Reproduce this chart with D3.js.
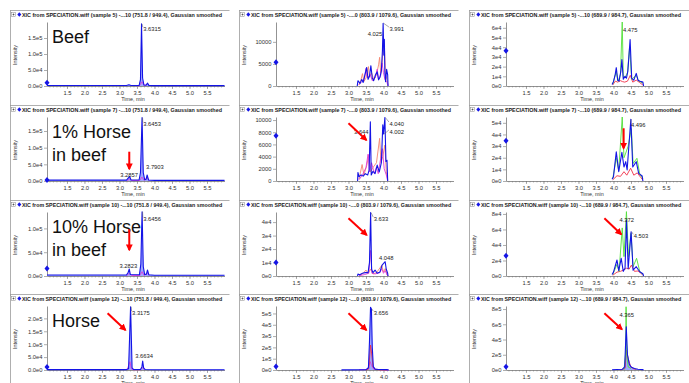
<!DOCTYPE html>
<html>
<head>
<meta charset="utf-8">
<script src="https://cdn.jsdelivr.net/npm/d3@7"></script>
<style>
  body { margin: 0; background: #fff; }
  svg { display: block; }
  text { font-family: "Liberation Sans", Arial, sans-serif; }
</style>
</head>
<body>
<svg id="chart" width="689" height="383"></svg>
<script>
// ---- data ----
const timeTicks = [1.5, 2.0, 2.5, 3.0, 3.5, 4.0, 4.5, 5.0, 5.5];
const samples = ["5", "7", "10", "12"];
const transitions = ["751.8 / 949.4", "803.9 / 1079.6", "689.9 / 984.7"];
const titleStubs = ["-...10", "-....0", "-...10"];
const sampleNames = [["Beef"], ["1% Horse", "in beef"], ["10% Horse", "in beef"], ["Horse"]];

const yMaxes = [
  [2.0e5, 14500, 6.6e4],
  [1.92e5, 10500, 5.5e4],
  [1.345e5, 4.75e4, 8.25e4],
  [2.48e5, 5.66e5, 8.4e5]
];
const yTicks = [
  [[0, 5e4, 1e5, 1.5e5], [0, 5000, 10000], [0, 1e4, 2e4, 3e4, 4e4, 5e4, 6e4]],
  [[0, 5e4, 1e5, 1.5e5], [0, 2000, 4000, 6000, 8000, 10000], [0, 1e4, 2e4, 3e4, 4e4, 5e4]],
  [[0, 5e4, 1e5], [0, 1e4, 2e4, 3e4, 4e4], [0, 2e4, 4e4, 6e4, 8e4]],
  [[0, 5e4, 1e5, 1.5e5, 2e5], [0, 1e5, 2e5, 3e5, 4e5, 5e5], [0, 2e5, 4e5, 6e5, 8e5]]
];
const yFormats = [
  [".1e", "d", ".0e"],
  [".1e", "d", ".0e"],
  [".1e", ".0e", ".0e"],
  [".1e", ".0e", ".0e"]
];
const markerLevels = [[1e4, 5400, 3.64e4], [3000, 7430, 3.46e4], [1.6e4, 1e4, 2.6e4], [1.16e4, 3e4, 4.4e4]];

// row 1 : beef
const r1c1Blue = [[0.93,1500],[3.2,1500],[3.27,4000],[3.33,1500],[3.56,1500],[3.6,20000],[3.63,194000],[3.66,25000],[3.7,3000],[3.76,2500],[3.8,9000],[3.84,2000],[4.0,1200],[6.0,1200]];
const r1c1Pink = [[3.5,0],[3.58,2000],[3.64,13000],[3.7,2500],[3.76,3500],[3.8,8000],[3.86,500]];
const r1c2Blue = [[3.25,0],[3.27,1200],[3.33,600],[3.38,1500],[3.42,800],[3.47,2500],[3.52,4200],[3.56,1500],[3.6,2200],[3.64,4600],[3.68,1800],[3.72,1200],[3.77,2500],[3.82,3200],[3.86,1400],[3.9,2000],[3.94,3500],[3.97,8000],[3.99,14200],[4.01,7000],[4.025,10600],[4.04,3000],[4.06,1000],[4.09,3800],[4.12,2500],[4.13,0]];
const r1c2Salmon = [[3.3,200],[3.36,1500],[3.4,2800],[3.44,1000],[3.5,1800],[3.57,4400],[3.6,2000],[3.66,3000],[3.72,1500],[3.8,2500],[3.86,4800],[3.89,6500],[3.92,3000],[3.96,5000],[4.0,9500],[4.03,8000],[4.06,2500],[4.1,1500],[4.13,200]];
const r1c2Pink = [[3.3,300],[3.38,1000],[3.45,1500],[3.5,4000],[3.54,1800],[3.62,2600],[3.68,1200],[3.76,1800],[3.82,3800],[3.86,1500],[3.92,2400],[3.96,5200],[4.0,3000],[4.04,1500],[4.1,800],[4.13,0]];
const r1c3Blue = [[3.96,1500],[4.0,4500],[4.05,12000],[4.08,18900],[4.12,6000],[4.16,5000],[4.21,15000],[4.24,27400],[4.28,7000],[4.33,10000],[4.37,8000],[4.41,15000],[4.475,48000],[4.52,7900],[4.58,6000],[4.65,13000],[4.7,6000],[4.76,5000],[4.84,4000],[4.86,0]];
const r1c3Green = [[3.98,2000],[4.08,15000],[4.13,5000],[4.2,12000],[4.25,66000],[4.28,9000],[4.35,9600],[4.4,14000],[4.46,40000],[4.52,7000],[4.65,11000],[4.72,5000],[4.84,3000]];
const r1c3Red = [[3.98,1000],[4.05,5000],[4.12,4000],[4.2,5500],[4.26,4500],[4.32,4000],[4.4,5000],[4.48,11000],[4.55,4000],[4.65,6000],[4.75,3500],[4.84,1000]];

// row 2 : 1% horse in beef
const r2c1Blue = [[0.93,2500],[3.2,2500],[3.26,10000],[3.29,14000],[3.33,3000],[3.56,3000],[3.6,25000],[3.645,190000],[3.68,25000],[3.72,4000],[3.76,5000],[3.79,18000],[3.83,3000],[4.0,2000],[6.0,2000]];
const r2c1Pink = [[3.22,1000],[3.29,6000],[3.35,1500],[3.58,1500],[3.64,12000],[3.7,2000],[3.79,10000],[3.85,1000]];
const r2c2Blue = [[3.26,0],[3.27,1400],[3.3,700],[3.36,1000],[3.42,800],[3.48,1200],[3.55,1000],[3.59,1800],[3.625,9700],[3.65,1000],[3.7,1600],[3.76,1200],[3.82,2600],[3.88,1500],[3.94,3000],[3.98,9200],[4.002,7700],[4.04,10400],[4.07,3200],[4.1,3400],[4.12,0]];
const r2c2Salmon = [[3.3,300],[3.39,2700],[3.44,1000],[3.52,2500],[3.58,4300],[3.63,1500],[3.7,2200],[3.8,3000],[3.89,7000],[3.93,3000],[3.98,4000],[4.04,5900],[4.08,1500],[4.12,200]];
const r2c2Pink = [[3.3,200],[3.4,1000],[3.5,2200],[3.56,4400],[3.6,1500],[3.66,3000],[3.74,1200],[3.8,2300],[3.85,1200],[3.92,3700],[3.97,5300],[4.02,2000],[4.08,1000],[4.12,0]];
const r2c3Blue = [[3.96,1500],[4.0,3700],[4.08,25000],[4.15,8000],[4.24,24700],[4.3,12000],[4.35,16600],[4.39,9500],[4.496,53000],[4.55,12000],[4.65,16600],[4.72,6600],[4.82,4300],[4.84,0]];
const r2c3Green = [[3.98,2000],[4.08,20000],[4.15,9000],[4.25,55000],[4.3,20000],[4.35,24000],[4.42,30000],[4.51,45000],[4.56,15000],[4.67,19500],[4.75,6000],[4.84,2000]];
const r2c3Red = [[3.98,1000],[4.1,4500],[4.2,4000],[4.3,8000],[4.38,5000],[4.49,11000],[4.58,5000],[4.68,7000],[4.78,3000],[4.84,800]];

// row 3 : 10% horse in beef
const r3c1Blue = [[0.93,2000],[3.2,2000],[3.25,8000],[3.28,14700],[3.31,3000],[3.57,2500],[3.61,25000],[3.646,135000],[3.68,20000],[3.72,3000],[3.77,4000],[3.8,12600],[3.84,2500],[4.0,1500],[6.0,1500]];
const r3c1Pink = [[3.2,500],[3.28,5600],[3.34,1000],[3.58,1000],[3.645,9000],[3.7,1500],[3.8,5600],[3.86,500]];
const r3c2Blue = [[3.26,0],[3.27,1500],[3.32,1000],[3.4,2000],[3.48,2500],[3.56,2500],[3.6,10000],[3.633,47000],[3.66,5000],[3.7,2500],[3.76,4400],[3.82,2000],[3.9,3000],[3.96,8100],[4.048,10600],[4.08,5000],[4.12,2000],[4.13,0]];
const r3c2Salmon = [[3.3,300],[3.4,1500],[3.5,4400],[3.56,2000],[3.63,5000],[3.7,1500],[3.8,2500],[3.9,6000],[3.95,8000],[4.0,3000],[4.05,5500],[4.1,1500],[4.13,200]];
const r3c2Pink = [[3.3,200],[3.45,1000],[3.58,2000],[3.633,19000],[3.67,2000],[3.76,1500],[3.9,2500],[3.95,5500],[4.0,2000],[4.05,4000],[4.1,800],[4.13,0]];
const r3c3Blue = [[3.96,2000],[4.0,5000],[4.1,20600],[4.15,7000],[4.22,22800],[4.28,6000],[4.33,10000],[4.372,72000],[4.42,9500],[4.503,57000],[4.56,7500],[4.65,12000],[4.75,5500],[4.84,3000],[4.86,0]];
const r3c3Green = [[3.98,2000],[4.1,15000],[4.16,6000],[4.25,62000],[4.3,25000],[4.37,83000],[4.43,25000],[4.5,55000],[4.56,12000],[4.66,22800],[4.75,6000],[4.84,2000]];
const r3c3Red = [[3.98,1000],[4.1,5000],[4.2,6000],[4.3,8000],[4.37,10000],[4.45,9000],[4.51,14000],[4.6,6000],[4.7,6500],[4.8,3000],[4.84,800]];

// row 4 : horse
const r4c1Blue = [[0.93,1500],[3.2,1500],[3.26,5000],[3.3175,245000],[3.36,8000],[3.4,2000],[3.6,2000],[3.64,12000],[3.663,35000],[3.69,8000],[3.73,2000],[4.0,1200],[6.0,1200]];
const r4c1Pink = [[3.22,1000],[3.3,32000],[3.34,4000],[3.4,1000],[3.6,1000],[3.66,9000],[3.71,1000]];
const r4c2Blue = [[2.8,1000],[3.4,2000],[3.5,3000],[3.57,20000],[3.6,250000],[3.63,555000],[3.656,540000],[3.68,200000],[3.71,30000],[3.76,8000],[3.85,4000],[4.1,3000],[4.15,0]];
const r4c2Red = [[3.5,0],[3.58,10000],[3.63,221000],[3.66,150000],[3.7,30000],[3.76,5000],[3.9,2000],[4.1,0]];
const r4c2Pink = [[3.3,2000],[3.55,5000],[3.62,74000],[3.66,40000],[3.72,8000],[3.9,3000],[4.1,1500],[4.15,0]];
const r4c3Blue = [[3.96,4000],[4.1,6000],[4.25,9000],[4.32,40000],[4.365,568000],[4.4,200000],[4.45,80000],[4.5,40000],[4.6,20000],[4.7,10000],[4.84,5000],[4.86,0]];
const r4c3Green = [[4.3,5000],[4.345,200000],[4.36,830000],[4.38,200000],[4.42,40000],[4.5,20000]];
const r4c3Red = [[4.2,2000],[4.33,20000],[4.37,262000],[4.42,150000],[4.48,60000],[4.55,20000],[4.65,8000]];

// [peak time, peak value, label time, label value, text]
const peakLabels = [
  [[[3.63,194000,3.68,171900,"3.6315"]],
   [[4.025,10600,3.55,11400,"4.025"],[3.99,14200,4.17,12460,"3.991"]],
   [[4.475,48000,4.27,55400,"4.475"]]],
  [[[3.645,190000,3.68,165000,"3.6453"],[3.29,14000,3.02,12000,"3.2857"],[3.79,18000,3.76,36000,"3.7903"]],
   [[4.04,10400,4.17,9020,"4.040"],[4.002,7700,4.17,7710,"4.002"],[3.625,9700,3.16,7710,"3.644"]],
   [[4.496,53000,4.5,46150,"4.496"]]],
  [[[3.646,135000,3.68,115600,"3.6456"],[3.28,14700,3.0,17500,"3.2823"]],
   [[3.633,47000,3.72,40800,"3.633"],[4.048,10600,3.87,11900,"4.048"]],
   [[4.372,72000,4.17,69200,"4.372"],[4.503,57000,4.58,48600,"4.503"]]],
  [[[3.3175,245000,3.36,213000,"3.3175"],[3.663,35000,3.45,45300,"3.6634"]],
   [[3.656,540000,3.72,486000,"3.656"]],
   [[4.365,568000,4.17,691000,"4.365"]]]
];

// red arrows: [row, col, t from, value from, t tip, value tip]
const arrows = [
  [1, 0, 3.28, 87900, 3.28, 36000],
  [1, 1, 3.0, 9460, 3.51, 6720],
  [1, 2, 4.29, 45300, 4.29, 28100],
  [2, 0, 3.28, 98200, 3.28, 54600],
  [2, 1, 3.0, 42800, 3.52, 30400],
  [2, 2, 3.74, 74400, 4.22, 53700],
  [3, 0, 2.66, 219700, 3.17, 155000],
  [3, 1, 3.0, 501000, 3.51, 354000],
  [3, 2, 3.74, 744000, 4.24, 534000]
];

const traces = [
  [[["pink", r1c1Pink], ["blue", r1c1Blue]],
   [["salmon", r1c2Salmon], ["pink", r1c2Pink], ["blue", r1c2Blue]],
   [["red", r1c3Red], ["green", r1c3Green], ["blue", r1c3Blue]]],
  [[["pink", r2c1Pink], ["blue", r2c1Blue]],
   [["salmon", r2c2Salmon], ["pink", r2c2Pink], ["blue", r2c2Blue]],
   [["red", r2c3Red], ["green", r2c3Green], ["blue", r2c3Blue]]],
  [[["pink", r3c1Pink], ["blue", r3c1Blue]],
   [["salmon", r3c2Salmon], ["pink", r3c2Pink], ["blue", r3c2Blue]],
   [["red", r3c3Red], ["green", r3c3Green], ["blue", r3c3Blue]]],
  [[["pink", r4c1Pink], ["blue", r4c1Blue]],
   [["pink", r4c2Pink], ["red", r4c2Red], ["blue", r4c2Blue]],
   [["red", r4c3Red], ["green", r4c3Green], ["blue", r4c3Blue]]]
];

// ---- layout ----
const colX = [0, 229, 459];
const rowY = [0, 95, 190, 284];
const colors = {blue: "#1414e6", pink: "#e03cd8", salmon: "#f5866e", red: "#f03048", green: "#52e03a"};
const filled = [[1, 0, 0], [1, 0, 0], [1, 0, 0], [1, 1, 1]];

const svg = d3.select("#chart");
svg.append("rect").attr("width", 689).attr("height", 383).attr("fill", "#fff");

svg.append("defs").append("marker")
  .attr("id", "head").attr("viewBox", "0 0 10 10")
  .attr("refX", 8).attr("refY", 5)
  .attr("markerWidth", 7).attr("markerHeight", 7)
  .attr("markerUnits", "userSpaceOnUse").attr("orient", "auto")
  .append("path").attr("d", "M0,0L10,5L0,10z").attr("fill", "#ff0000");

const panelScales = [];

for (let r = 0; r < 4; r++) {
  panelScales.push([]);
  for (let c = 0; c < 3; c++) {
    const g = svg.append("g").attr("transform", `translate(${colX[c]},${rowY[r]})`);
    const x = d3.scaleLinear().domain([0.93, 6.0]).range([47, 224.5]);
    const y = d3.scaleLinear().domain([0, yMaxes[r][c]]).range([86, 22]);
    panelScales[r].push({x, y});

    // frame
    g.append("line").attr("x1", 10).attr("x2", c === 2 ? 230 : 229.5)
      .attr("y1", 10.5).attr("y2", 10.5).attr("stroke", "#9a9a9a").attr("stroke-width", 0.8);
    g.append("line").attr("x1", 10.5).attr("x2", 10.5)
      .attr("y1", 10).attr("y2", 106).attr("stroke", "#9a9a9a").attr("stroke-width", 0.8);

    // title (squeezed horizontally to fit the panel, like the original)
    g.append("rect").attr("x", 11.5).attr("y", 12.5).attr("width", 4).attr("height", 4)
      .attr("fill", "none").attr("stroke", "#888").attr("stroke-width", 0.5);
    g.append("path").attr("d", "M12.5,14.5h2M13.5,13.5v2").attr("stroke", "#333").attr("stroke-width", 0.6);
    g.append("path").attr("d", "M19.3,12.2L21.3,14.5L19.3,16.8L17.3,14.5z").attr("fill", "#1414e6");
    const tg = g.append("g").attr("transform", "translate(22,17)");
    const tt = tg.append("text")
      .attr("font-size", 6.2).attr("font-weight", "bold").attr("fill", "#222")
      .text(`XIC from SPECIATION.wiff (sample ${samples[r]}) ${titleStubs[c]} (${transitions[c]}), Gaussian smoothed`);
    const natural = tt.node().getComputedTextLength();
    tg.attr("transform", `translate(22,17) scale(${200 / natural},1)`);

    // axes
    const fmt = yFormats[r][c] === "d" ? d3.format("d")
      : (d => d3.format(yFormats[r][c])(d).replace("e+", "e"));
    const ya = g.append("g").attr("transform", "translate(47,0)")
      .call(d3.axisLeft(y).tickValues(yTicks[r][c]).tickFormat(fmt).tickSize(3).tickSizeOuter(0));
    ya.select(".domain").attr("stroke", "#777").attr("stroke-width", 0.8);
    ya.selectAll(".tick line").attr("stroke", "#777").attr("stroke-width", 0.6);
    ya.selectAll(".tick text").attr("font-size", 5.8).attr("fill", "#333")
      .attr("font-family", "Liberation Sans, Arial, sans-serif").attr("x", -4.5);

    const xa = g.append("g").attr("transform", "translate(0,86)")
      .call(d3.axisBottom(x).tickValues(timeTicks).tickFormat(d3.format(".1f")).tickSize(3).tickSizeOuter(0));
    xa.select(".domain").attr("stroke", "#777").attr("stroke-width", 0.8);
    xa.selectAll(".tick line").attr("stroke", "#777").attr("stroke-width", 0.6);
    xa.selectAll(".tick text").attr("font-size", 5.8).attr("fill", "#333")
      .attr("font-family", "Liberation Sans, Arial, sans-serif").attr("y", 4.5);
    const xm = g.append("g").attr("transform", "translate(0,86)")
      .call(d3.axisBottom(x).tickValues(d3.range(1.0, 6.0, 0.1)).tickFormat("").tickSize(1.5).tickSizeOuter(0));
    xm.select(".domain").remove();
    xm.selectAll(".tick line").attr("stroke", "#777").attr("stroke-width", 0.5);

    g.append("text").attr("transform", "translate(17,55) rotate(-90)")
      .attr("text-anchor", "middle").attr("font-size", 5.4).attr("fill", "#333").text("Intensity");
    g.append("text").attr("x", 133).attr("y", 101)
      .attr("text-anchor", "middle").attr("font-size", 5.4).attr("fill", "#333").text("Time, min");

    // traces
    const line = d3.line().x(d => x(d[0])).y(d => y(d[1]));
    const area = d3.area().x(d => x(d[0])).y0(y(0)).y1(d => y(d[1]));
    traces[r][c].forEach(([name, pts]) => {
      if (name === "blue" && filled[r][c]) {
        g.append("path").datum(pts).attr("d", area).attr("fill", "#7d8bff").attr("opacity", 0.75);
      }
    });
    traces[r][c].forEach(([name, pts]) => {
      g.append("path").datum(pts).attr("d", line).attr("fill", "none")
        .attr("stroke", colors[name]).attr("stroke-width", name === "blue" ? 1.1 : 0.9)
        .attr("stroke-linejoin", "round");
    });

    // threshold marker on the y axis
    const my = y(markerLevels[r][c]);
    const ax = x.range()[0];
    g.append("path").attr("d", `M${ax - 2.5},${my}L${ax},${my - 3}L${ax + 2.5},${my}L${ax},${my + 3}z`)
      .attr("fill", "#1414e6");

    // peak labels
    peakLabels[r][c].forEach(([pt, pv, lt, lv, txt]) => {
      if (lt > pt) {
        g.append("line").attr("x1", x(pt) + 0.5).attr("y1", y(pv))
          .attr("x2", x(lt) - 0.5).attr("y2", y(lv) - 4)
          .attr("stroke", "#555").attr("stroke-width", 0.5);
      }
      g.append("text").attr("x", x(lt)).attr("y", y(lv))
        .attr("font-size", 5.8).attr("fill", "#222").text(txt);
    });

    // sample name, first column only
    if (c === 0) {
      sampleNames[r].forEach((s, i) => {
        g.append("text").attr("x", 52).attr("y", 43 + i * 23)
          .attr("font-size", 18).attr("fill", "#111").text(s);
      });
    }
  }
}

// red arrows
arrows.forEach(([r, c, t1, v1, t2, v2]) => {
  const {x, y} = panelScales[r][c];
  svg.append("line")
    .attr("transform", `translate(${colX[c]},${rowY[r]})`)
    .attr("x1", x(t1)).attr("y1", y(v1)).attr("x2", x(t2)).attr("y2", y(v2))
    .attr("stroke", "#ff0000").attr("stroke-width", 2)
    .attr("marker-end", "url(#head)");
});
</script>
</body>
</html>
